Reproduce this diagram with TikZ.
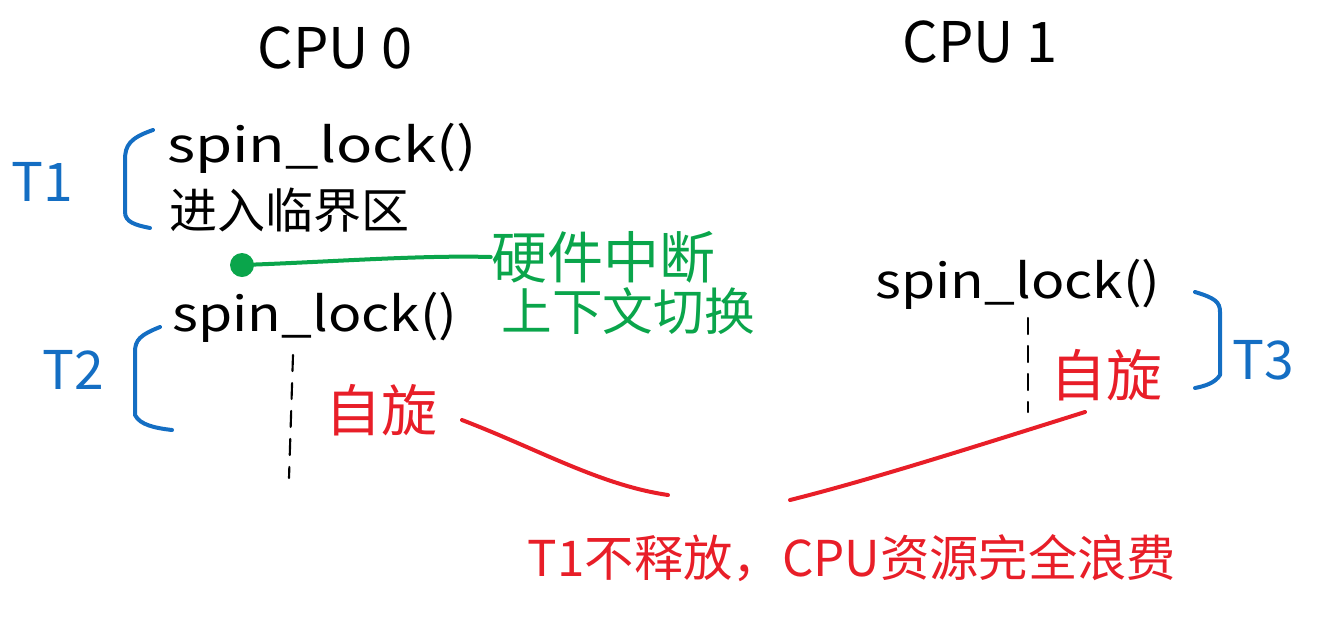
\documentclass[tikz,border=0pt]{standalone}
\usepackage{fontspec}
\usepackage{graphicx}
\setmainfont{Noto Sans CJK SC}
\newcommand{\spinlk}[1]{\scalebox{#1}[1]{spin\_lock()}}
\begin{document}
\begin{tikzpicture}[x=0.75pt,y=-0.75pt,
  blk/.style={text=black,inner sep=0pt},
  bluet/.style={text=tblue,inner sep=0pt},
  redt/.style={text=tred,inner sep=0pt},
  greent/.style={text=tgreen,inner sep=0pt},
  brk/.style={draw=tblue,line width=3pt,line cap=round,line join=round},
  redline/.style={draw=tred,line width=3pt,line cap=round},
  greenline/.style={draw=tgreen,line width=3pt,line cap=round},
  dashline/.style={draw=black,line width=1.6pt,dash pattern=on 12pt off 9pt,line cap=round}]
\definecolor{tblue}{RGB}{20,110,195}
\definecolor{tred}{RGB}{232,30,40}
\definecolor{tgreen}{RGB}{10,165,75}
\useasboundingbox (0,0) rectangle (1330,619);
% headers
\node[blk,font=\fontsize{42}{46}\selectfont] (cpu0) at (335,48) {CPU 0};
\node[blk,font=\fontsize{42}{46}\selectfont] (cpu1) at (980,42) {CPU 1};
% CPU0 T1
\node[blk,font=\fontsize{36}{40}\selectfont] (sl1) at (322,148) {\spinlk{1.25}};
\node[blk,font=\fontsize{36}{40}\selectfont] (enter) at (289,210) {进入临界区};
\node[bluet,font=\fontsize{40}{44}\selectfont] (t1) at (42,182) {T1};
\draw[brk] (153,130) .. controls (130,138) and (125,145) .. (125,160) -- (125,212) .. controls (125,222) and (135,225) .. (150,228);
% interrupt
\coordinate (dot) at (242,265);
\fill[tgreen] (dot) circle (12);
\node[greent,font=\fontsize{42}{46}\selectfont] (hw) at (603,257) {硬件中断};
\node[greent,font=\fontsize{38}{42}\selectfont] (ctx) at (628,311) {上下文切换};
\draw[greenline] (dot) .. controls (330,262) and (420,255) .. (hw.west);
% CPU0 T2
\node[blk,font=\fontsize{36}{40}\selectfont] (sl2) at (315,317) {\spinlk{1.15}};
\node[bluet,font=\fontsize{40}{44}\selectfont] (t2) at (73,370) {T2};
\draw[brk] (160,327) .. controls (140,335) and (135,340) .. (135,352) -- (135,415) .. controls (140,425) and (155,428) .. (172,430);
\coordinate (d2e) at (289,478);
\draw[dashline] (293,355) -- (d2e);
\node[redt,font=\fontsize{42}{46}\selectfont] (spin0) at (381,410) {自旋};
% CPU1 T3
\node[blk,font=\fontsize{36}{40}\selectfont] (sl3) at (1018,284) {\spinlk{1.15}};
\coordinate (d3e) at (1028,412);
\draw[dashline] (1028,318) -- (d3e);
\node[redt,font=\fontsize{42}{46}\selectfont] (spin1) at (1106,375) {自旋};
\draw[brk] (1195,292) .. controls (1215,298) and (1220,302) .. (1220,312) -- (1220,375) .. controls (1215,383) and (1205,386) .. (1195,388);
\node[bluet,font=\fontsize{40}{44}\selectfont] (t3) at (1263,360) {T3};
% conclusion
\node[redt,font=\fontsize{37}{41}\selectfont] (waste) at (852,558) {T1不释放，CPU资源完全浪费};
\coordinate (r1e) at (668,495);
\coordinate (r2s) at (790,500);
\draw[redline] (462,420) .. controls (540,450) and (600,485) .. (r1e);
\draw[redline] (1085,412) .. controls (980,445) and (870,480) .. (r2s);
\end{tikzpicture}
\end{document}
